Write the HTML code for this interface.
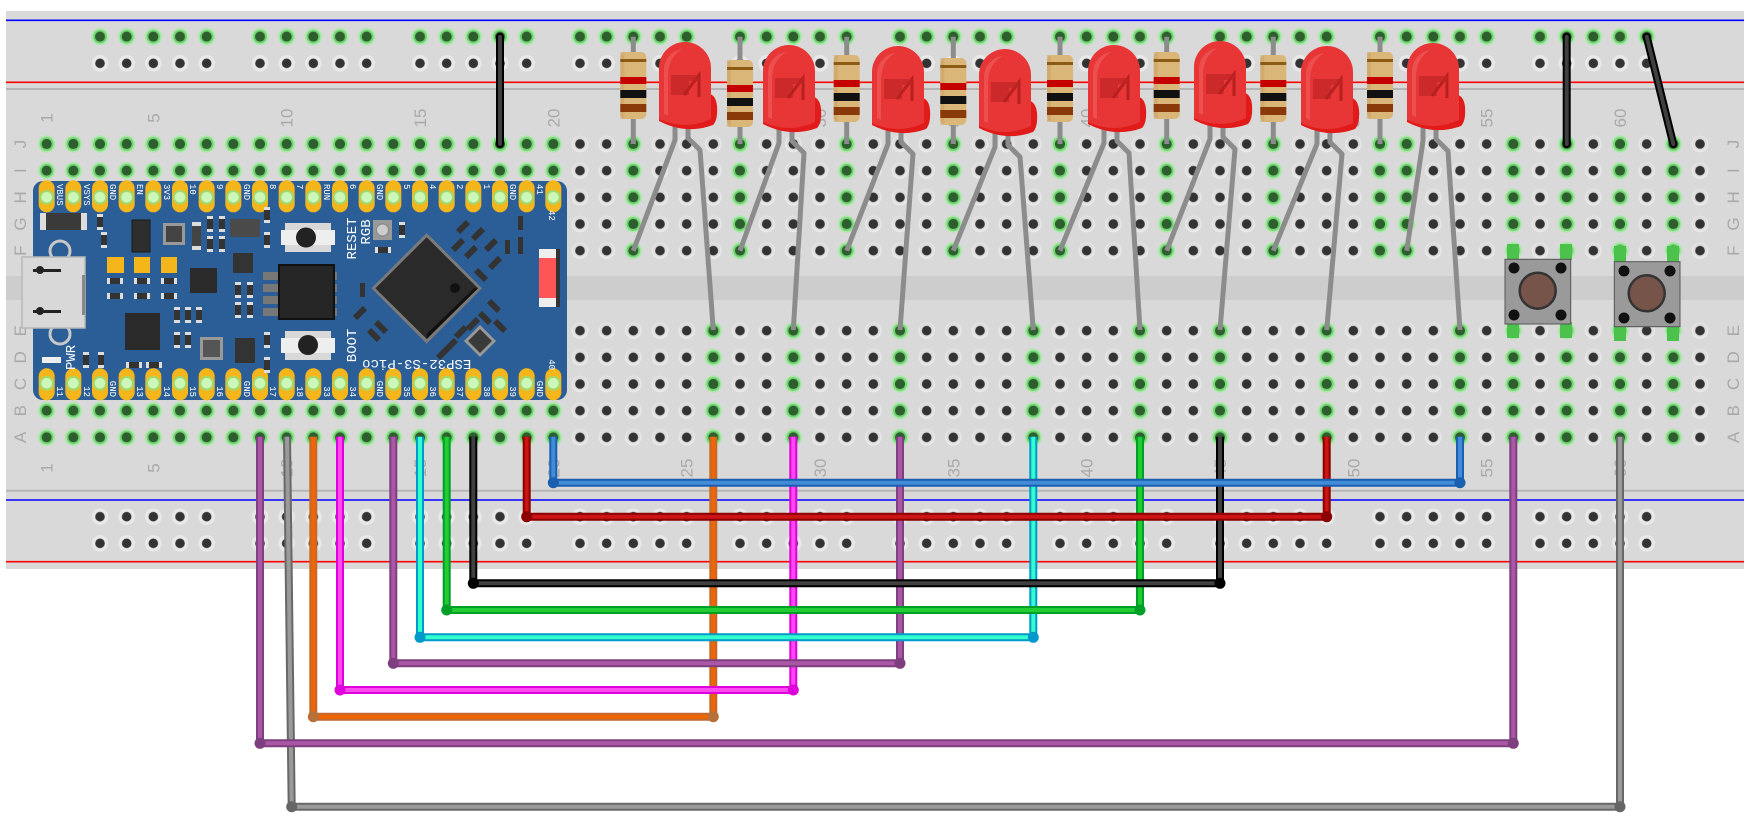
<!DOCTYPE html>
<html><head><meta charset="utf-8"><style>
html,body{margin:0;padding:0;background:#fff;width:1750px;height:820px;overflow:hidden}
svg{display:block}
</style></head><body>
<svg width="1750" height="820" viewBox="0 0 1750 820" xmlns="http://www.w3.org/2000/svg" font-family="Liberation Sans, sans-serif">
<defs>
<pattern id="pn" x="33.333" y="130.667" width="26.667" height="26.667" patternUnits="userSpaceOnUse"><circle cx="13.333" cy="13.333" r="8.3" fill="#e9e9e9"/><circle cx="13.333" cy="12.6" r="7" fill="#cfcfcf" opacity=".5"/><circle cx="13.333" cy="13.333" r="4.8" fill="#333"/></pattern>
<pattern id="pg" x="33.333" y="130.667" width="26.667" height="26.667" patternUnits="userSpaceOnUse"><rect width="26.667" height="26.667" fill="#d9d9d9"/><circle cx="13.333" cy="13.333" r="8.6" fill="#a6eaa6"/><circle cx="13.333" cy="13.333" r="6.8" fill="#72d072"/><circle cx="13.333" cy="13.333" r="5" fill="#2d5e2d"/></pattern>
<pattern id="rn" x="86.667" y="23.333" width="160" height="26.667" patternUnits="userSpaceOnUse">
<g fill="#e9e9e9"><circle cx="13.333" cy="13.333" r="8.3"/><circle cx="40" cy="13.333" r="8.3"/><circle cx="66.667" cy="13.333" r="8.3"/><circle cx="93.333" cy="13.333" r="8.3"/><circle cx="120" cy="13.333" r="8.3"/></g>
<g fill="#333"><circle cx="13.333" cy="13.333" r="4.8"/><circle cx="40" cy="13.333" r="4.8"/><circle cx="66.667" cy="13.333" r="4.8"/><circle cx="93.333" cy="13.333" r="4.8"/><circle cx="120" cy="13.333" r="4.8"/></g></pattern>
<pattern id="rg" x="86.667" y="23.333" width="160" height="26.667" patternUnits="userSpaceOnUse">
<g fill="#a6eaa6"><circle cx="13.333" cy="13.333" r="8.6"/><circle cx="40" cy="13.333" r="8.6"/><circle cx="66.667" cy="13.333" r="8.6"/><circle cx="93.333" cy="13.333" r="8.6"/><circle cx="120" cy="13.333" r="8.6"/></g>
<g fill="#72d072"><circle cx="13.333" cy="13.333" r="6.8"/><circle cx="40" cy="13.333" r="6.8"/><circle cx="66.667" cy="13.333" r="6.8"/><circle cx="93.333" cy="13.333" r="6.8"/><circle cx="120" cy="13.333" r="6.8"/></g>
<g fill="#2d5e2d"><circle cx="13.333" cy="13.333" r="5"/><circle cx="40" cy="13.333" r="5"/><circle cx="66.667" cy="13.333" r="5"/><circle cx="93.333" cy="13.333" r="5"/><circle cx="120" cy="13.333" r="5"/></g></pattern>
<g id="padT"><rect x="-8" y="-17" width="16" height="32" rx="8" fill="#f4b61a"/><circle r="6.3" fill="#cdf7b8" stroke="#a3d86c" stroke-width="2"/></g>
<g id="padB"><rect x="-8" y="-15" width="16" height="32" rx="8" fill="#f4b61a"/><circle r="6.3" fill="#cdf7b8" stroke="#a3d86c" stroke-width="2"/></g>
<g id="smdV"><rect x="-3" y="-8" width="6" height="16" fill="#333"/><rect x="-3" y="-8" width="6" height="3" fill="#ddd"/><rect x="-3" y="5" width="6" height="3" fill="#ddd"/></g>
<g id="smdH"><rect x="-8" y="-3" width="16" height="6" fill="#333"/><rect x="-8" y="-3" width="3" height="6" fill="#ddd"/><rect x="5" y="-3" width="3" height="6" fill="#ddd"/></g>
<g id="res"><rect x="-13" y="0" width="26" height="67" rx="5" fill="#dbb679"/><rect x="-13" y="0" width="4" height="67" fill="#c9a060" opacity=".5"/><rect x="-13" y="7" width="26" height="3" fill="#8b5a14"/><rect x="-13" y="25" width="26" height="7" fill="#c40000"/><rect x="-13" y="38" width="26" height="8" fill="#111"/><rect x="-13" y="52" width="26" height="8" fill="#8a3a08"/></g>
<g id="led"><path d="M-27,70 L-27,79 Q0,93 27,83 Q32,78 31,64 Q30,54 24,52 Z" fill="#e11a1a"/><path d="M-27,77 V26 A26,26 0 0 1 25,26 V77 Q-1,89 -27,77 Z" fill="#e83636"/><path d="M-22,72 V28 A21,21 0 0 1 -4,7 Q-18,16 -18,34 V74 Z" fill="#f06060" opacity=".6"/><rect x="-15" y="33" width="18" height="20" fill="#c02525" opacity=".7"/><path d="M-2,53 L13,33 L13,55" fill="none" stroke="#b82020" stroke-width="3"/><rect x="3" y="33" width="10" height="6" fill="#c02525" opacity=".7"/></g>
</defs>

<rect x="6" y="11" width="1738" height="558" fill="#d9d9d9"/>
<rect x="6" y="276" width="1738" height="24" fill="#cdcdcd"/>
<line x1="6" y1="20.3" x2="1744" y2="20.3" stroke="#0000ff" stroke-width="1.6"/>
<line x1="6" y1="82.3" x2="1744" y2="82.3" stroke="#ff0000" stroke-width="1.6"/>
<line x1="6" y1="89" x2="1744" y2="89" stroke="#b5b5b5" stroke-width="2"/>
<line x1="6" y1="490.7" x2="1744" y2="490.7" stroke="#b5b5b5" stroke-width="2"/>
<line x1="6" y1="500" x2="1744" y2="500" stroke="#0000ff" stroke-width="1.6"/>
<line x1="6" y1="561.7" x2="1744" y2="561.7" stroke="#ff0000" stroke-width="1.6"/>

<rect x="86.667" y="23.333" width="1600" height="53.333" fill="url(#rn)"/>
<rect x="86.667" y="23.333" width="1600" height="26.667" fill="url(#rg)"/>
<rect x="86.667" y="503.333" width="1600" height="53.333" fill="url(#rn)"/>

<rect x="33.333" y="130.667" width="1680" height="133.333" fill="url(#pn)"/>
<rect x="33.333" y="317.333" width="1680" height="133.333" fill="url(#pn)"/>
<g fill="url(#pg)">
<rect x="33.333" y="130.667" width="533.33" height="133.333"/>
<rect x="33.333" y="317.333" width="533.33" height="133.333"/>
<rect x="620" y="130.667" width="26.667" height="133.333"/>
<rect x="726.667" y="130.667" width="26.667" height="133.333"/>
<rect x="833.333" y="130.667" width="26.667" height="133.333"/>
<rect x="940" y="130.667" width="26.667" height="133.333"/>
<rect x="1046.667" y="130.667" width="26.667" height="133.333"/>
<rect x="1153.333" y="130.667" width="26.667" height="133.333"/>
<rect x="1260" y="130.667" width="26.667" height="133.333"/>
<rect x="1366.667" y="130.667" width="53.333" height="133.333"/>
<rect x="1500" y="130.667" width="26.667" height="133.333"/>
<rect x="1553.333" y="130.667" width="26.667" height="133.333"/>
<rect x="1606.667" y="130.667" width="26.667" height="133.333"/>
<rect x="1660" y="130.667" width="26.667" height="133.333"/>
<rect x="700" y="317.333" width="26.667" height="133.333"/>
<rect x="780" y="317.333" width="26.667" height="133.333"/>
<rect x="886.667" y="317.333" width="26.667" height="133.333"/>
<rect x="1020" y="317.333" width="26.667" height="133.333"/>
<rect x="1126.667" y="317.333" width="26.667" height="133.333"/>
<rect x="1206.667" y="317.333" width="26.667" height="133.333"/>
<rect x="1313.333" y="317.333" width="26.667" height="133.333"/>
<rect x="1446.667" y="317.333" width="26.667" height="133.333"/>
<rect x="1500" y="317.333" width="26.667" height="133.333"/>
<rect x="1553.333" y="317.333" width="26.667" height="133.333"/>
<rect x="1606.667" y="317.333" width="26.667" height="133.333"/>
<rect x="1660" y="317.333" width="26.667" height="133.333"/>
</g>

<g fill="#a9a9a9" font-size="17" text-anchor="middle">
<g id="numrow">
<text transform="translate(52.7,118) rotate(-90)">1</text>
<text transform="translate(159.3,118) rotate(-90)">5</text>
<text transform="translate(292.7,118) rotate(-90)">10</text>
<text transform="translate(426,118) rotate(-90)">15</text>
<text transform="translate(559.3,118) rotate(-90)">20</text>
<text transform="translate(692.7,118) rotate(-90)">25</text>
<text transform="translate(826,118) rotate(-90)">30</text>
<text transform="translate(959.3,118) rotate(-90)">35</text>
<text transform="translate(1092.7,118) rotate(-90)">40</text>
<text transform="translate(1226,118) rotate(-90)">45</text>
<text transform="translate(1359.3,118) rotate(-90)">50</text>
<text transform="translate(1492.7,118) rotate(-90)">55</text>
<text transform="translate(1626,118) rotate(-90)">60</text>
</g>
<use href="#numrow" y="350"/>
<g id="lettL">
<text transform="translate(26,144) rotate(-90)">J</text>
<text transform="translate(26,170.7) rotate(-90)">I</text>
<text transform="translate(26,197.3) rotate(-90)">H</text>
<text transform="translate(26,224) rotate(-90)">G</text>
<text transform="translate(26,250.7) rotate(-90)">F</text>
<text transform="translate(26,330.7) rotate(-90)">E</text>
<text transform="translate(26,357.3) rotate(-90)">D</text>
<text transform="translate(26,384) rotate(-90)">C</text>
<text transform="translate(26,410.7) rotate(-90)">B</text>
<text transform="translate(26,437.3) rotate(-90)">A</text>
</g>
<use href="#lettL" x="1713"/>
</g>

<rect x="33" y="181" width="534" height="219" rx="10" fill="#2b5e97"/>
<g>
<use href="#padT" x="46.67" y="197.3"/><use href="#padT" x="73.33" y="197.3"/><use href="#padT" x="100" y="197.3"/><use href="#padT" x="126.67" y="197.3"/><use href="#padT" x="153.33" y="197.3"/><use href="#padT" x="180" y="197.3"/><use href="#padT" x="206.67" y="197.3"/><use href="#padT" x="233.33" y="197.3"/><use href="#padT" x="260" y="197.3"/><use href="#padT" x="286.67" y="197.3"/><use href="#padT" x="313.33" y="197.3"/><use href="#padT" x="340" y="197.3"/><use href="#padT" x="366.67" y="197.3"/><use href="#padT" x="393.33" y="197.3"/><use href="#padT" x="420" y="197.3"/><use href="#padT" x="446.67" y="197.3"/><use href="#padT" x="473.33" y="197.3"/><use href="#padT" x="500" y="197.3"/><use href="#padT" x="526.67" y="197.3"/><use href="#padT" x="553.33" y="197.3"/>
<use href="#padB" x="46.67" y="383.3"/><use href="#padB" x="73.33" y="383.3"/><use href="#padB" x="100" y="383.3"/><use href="#padB" x="126.67" y="383.3"/><use href="#padB" x="153.33" y="383.3"/><use href="#padB" x="180" y="383.3"/><use href="#padB" x="206.67" y="383.3"/><use href="#padB" x="233.33" y="383.3"/><use href="#padB" x="260" y="383.3"/><use href="#padB" x="286.67" y="383.3"/><use href="#padB" x="313.33" y="383.3"/><use href="#padB" x="340" y="383.3"/><use href="#padB" x="366.67" y="383.3"/><use href="#padB" x="393.33" y="383.3"/><use href="#padB" x="420" y="383.3"/><use href="#padB" x="446.67" y="383.3"/><use href="#padB" x="473.33" y="383.3"/><use href="#padB" x="500" y="383.3"/><use href="#padB" x="526.67" y="383.3"/><use href="#padB" x="553.33" y="383.3"/>
</g>
<g fill="#ffffff" font-family="Liberation Mono, monospace" font-size="9">
<text transform="translate(57,184) rotate(90)">VBUS</text>
<text transform="translate(84,184) rotate(90)">VSYS</text>
<text transform="translate(110,184) rotate(90)">GND</text>
<text transform="translate(137,184) rotate(90)">EN</text>
<text transform="translate(164,184) rotate(90)">3V3</text>
<text transform="translate(190,184) rotate(90)">10</text>
<text transform="translate(217,184) rotate(90)">9</text>
<text transform="translate(244,184) rotate(90)">GND</text>
<text transform="translate(270,184) rotate(90)">8</text>
<text transform="translate(297,184) rotate(90)">7</text>
<text transform="translate(324,184) rotate(90)">RUN</text>
<text transform="translate(350,184) rotate(90)">6</text>
<text transform="translate(377,184) rotate(90)">GND</text>
<text transform="translate(404,184) rotate(90)">5</text>
<text transform="translate(430,184) rotate(90)">4</text>
<text transform="translate(457,184) rotate(90)">2</text>
<text transform="translate(484,184) rotate(90)">1</text>
<text transform="translate(510,184) rotate(90)">GND</text>
<text transform="translate(537,184) rotate(90)">41</text>
<text transform="translate(549,210) rotate(90)">42</text>
<g text-anchor="end">
<text transform="translate(57,397) rotate(90)">11</text>
<text transform="translate(84,397) rotate(90)">12</text>
<text transform="translate(110,397) rotate(90)">GND</text>
<text transform="translate(137,397) rotate(90)">13</text>
<text transform="translate(164,397) rotate(90)">14</text>
<text transform="translate(190,397) rotate(90)">15</text>
<text transform="translate(217,397) rotate(90)">16</text>
<text transform="translate(244,397) rotate(90)">GND</text>
<text transform="translate(270,397) rotate(90)">17</text>
<text transform="translate(297,397) rotate(90)">18</text>
<text transform="translate(324,397) rotate(90)">33</text>
<text transform="translate(350,397) rotate(90)">34</text>
<text transform="translate(377,397) rotate(90)">GND</text>
<text transform="translate(404,397) rotate(90)">35</text>
<text transform="translate(430,397) rotate(90)">36</text>
<text transform="translate(457,397) rotate(90)">37</text>
<text transform="translate(484,397) rotate(90)">38</text>
<text transform="translate(510,397) rotate(90)">39</text>
<text transform="translate(537,397) rotate(90)">GND</text>
<text transform="translate(549,370) rotate(90)">40</text>
</g>
</g>
<rect x="40" y="213" width="47" height="17" fill="#3a3a3a"/><rect x="40" y="213" width="6" height="17" fill="#ddd"/><rect x="81" y="213" width="6" height="17" fill="#ddd"/>
<use href="#smdV" x="100" y="222"/>
<circle cx="60" cy="251" r="10" fill="none" stroke="#c8c8c8" stroke-width="3"/>
<circle cx="60" cy="334" r="10" fill="none" stroke="#c8c8c8" stroke-width="3"/>
<rect x="22" y="257" width="63" height="71" fill="#d8d8d8" stroke="#b8b8b8" stroke-width="1.5"/>
<rect x="82" y="275" width="3" height="40" fill="#888"/>
<rect x="33" y="269" width="28" height="3" fill="#222"/><circle cx="40" cy="270" r="4" fill="#222"/>
<rect x="33" y="310" width="28" height="3" fill="#222"/><circle cx="40" cy="311" r="4" fill="#222"/>
<rect x="132" y="220" width="18" height="32" fill="#2e2e2e" stroke="#1a1a1a"/>
<rect x="163" y="223" width="22" height="22" fill="#999"/><rect x="166" y="226" width="16" height="16" fill="#444"/>
<rect x="192" y="222" width="9" height="28" fill="#444"/><rect x="192" y="222" width="9" height="4" fill="#ddd"/><rect x="192" y="246" width="9" height="4" fill="#ddd"/>
<rect x="230" y="219" width="30" height="18" fill="#4a4a4a"/>
<rect x="107" y="257" width="17" height="16" fill="#f4b61a"/><rect x="134" y="257" width="16" height="16" fill="#f4b61a"/><rect x="161" y="257" width="16" height="16" fill="#f4b61a"/>
<rect x="190" y="268" width="27" height="25" fill="#2a2a2a"/>
<rect x="233" y="253" width="20" height="20" fill="#333"/>
<rect x="125" y="313" width="35" height="37" fill="#2a2a2a"/>
<rect x="200" y="337" width="23" height="23" fill="#999"/><rect x="203" y="340" width="17" height="17" fill="#555"/>
<rect x="235" y="338" width="20" height="25" fill="#333"/>
<rect x="42" y="357" width="19" height="6" fill="#eee"/>
<use href="#smdH" x="115" y="281"/><use href="#smdH" x="142" y="281"/><use href="#smdH" x="169" y="281"/>
<use href="#smdH" x="115" y="296"/><use href="#smdH" x="142" y="296"/><use href="#smdH" x="169" y="296"/>
<use href="#smdV" x="104" y="240"/><use href="#smdV" x="210" y="224"/><use href="#smdV" x="210" y="244"/><use href="#smdV" x="222" y="224"/><use href="#smdV" x="222" y="244"/>
<use href="#smdV" x="177" y="315"/><use href="#smdV" x="188" y="315"/><use href="#smdV" x="199" y="315"/><use href="#smdV" x="177" y="340"/><use href="#smdV" x="188" y="340"/>
<use href="#smdV" x="238" y="290"/><use href="#smdV" x="250" y="290"/><use href="#smdV" x="238" y="310"/><use href="#smdV" x="250" y="310"/>
<use href="#smdV" x="86" y="360"/><use href="#smdV" x="101" y="360"/><use href="#smdV" x="267" y="215"/><use href="#smdV" x="267" y="240"/><use href="#smdV" x="267" y="340"/><use href="#smdV" x="267" y="365"/>
<use href="#smdH" x="134" y="365"/><use href="#smdH" x="154" y="365"/>
<text transform="translate(75,370) rotate(-90)" fill="#fff" font-size="14" font-family="Liberation Mono, monospace">PWR</text>
<rect x="285" y="223" width="46" height="29" fill="#d8d8d8"/><rect x="281" y="230" width="54" height="15" fill="#eee"/><circle cx="306" cy="237.5" r="10" fill="#222"/>
<rect x="285" y="331" width="46" height="29" fill="#d8d8d8"/><rect x="281" y="338" width="54" height="15" fill="#eee"/><circle cx="308" cy="345" r="10" fill="#222"/>
<rect x="263" y="272" width="74" height="8" fill="#777"/><rect x="263" y="284" width="74" height="8" fill="#777"/><rect x="263" y="296" width="74" height="8" fill="#777"/><rect x="263" y="308" width="74" height="8" fill="#777"/>
<rect x="279" y="265" width="55" height="54" fill="#262626" stroke="#111" stroke-width="2"/>
<g fill="#fff" font-family="Liberation Mono, monospace" font-size="14" text-anchor="middle">
<text transform="translate(356,238.5) rotate(-90)">RESET</text>
<text transform="translate(370,232) rotate(-90)">RGB</text>
<text transform="translate(356,345.5) rotate(-90)">BOOT</text>
<text transform="translate(416.7,360) rotate(180)">ESP32-S3-Pico</text>
</g>
<rect x="373" y="220" width="19" height="20" fill="#999"/><circle cx="382.5" cy="230" r="6" fill="#ccc" stroke="#888"/>
<use href="#smdH" x="383" y="250"/><use href="#smdV" x="402" y="230"/>
<path d="M426.7,233 L482,288.3 L426.7,343.6 L371.4,288.3 Z" fill="#7a7a7a"/>
<path d="M426.7,237.3 L478,288.3 L426.7,339 L375.4,288.3 Z" fill="#2a2a2a"/>
<path d="M426.7,339 L478,288.3 L474,288.3 L426.7,334 Z" fill="#111"/>
<circle cx="455" cy="288" r="5" fill="#111"/>
<path d="M480,325 L496,341 L480,357 L464,341 Z" fill="#999"/><path d="M480,329 L492,341 L480,353 L468,341 Z" fill="#3a3a3a"/>
<g fill="#333"><rect x="460" y="220" width="6" height="14" transform="rotate(45 463 227)"/><rect x="475" y="227" width="6" height="14" transform="rotate(45 478 234)"/><rect x="455" y="238" width="6" height="14" transform="rotate(45 458 245)"/><rect x="468" y="245" width="6" height="14" transform="rotate(45 471 252)"/><rect x="488" y="238" width="6" height="14" transform="rotate(45 491 245)"/><rect x="492" y="256" width="6" height="14" transform="rotate(45 495 263)"/><rect x="478" y="268" width="6" height="14" transform="rotate(-45 481 275)"/><rect x="491" y="299" width="6" height="14" transform="rotate(-45 494 306)"/><rect x="482" y="311" width="6" height="14" transform="rotate(-45 485 318)"/><rect x="497" y="319" width="6" height="14" transform="rotate(-45 500 326)"/><rect x="470" y="317" width="6" height="14" transform="rotate(45 473 324)"/><rect x="458" y="325" width="6" height="14" transform="rotate(45 461 332)"/><rect x="448" y="338" width="6" height="14" transform="rotate(45 451 345)"/><rect x="440" y="346" width="6" height="14" transform="rotate(45 443 353)"/><rect x="357" y="306" width="6" height="14" transform="rotate(45 360 313)"/><rect x="378" y="320" width="6" height="14" transform="rotate(-45 381 327)"/><rect x="371" y="328" width="6" height="14" transform="rotate(-45 374 335)"/><rect x="360" y="283" width="5" height="14"/><rect x="518" y="216" width="5" height="14"/><rect x="518" y="237" width="5" height="17"/><rect x="505" y="240" width="5" height="14"/></g>
<rect x="539" y="249" width="21" height="58" fill="#eee"/><rect x="539" y="258" width="18" height="40" fill="#ff5555"/><rect x="556" y="249" width="4" height="58" fill="#333"/>

<g stroke="#8c8c8c" stroke-width="5" fill="none" stroke-linejoin="round">
<path d="M633.3,36.7 V144"/><path d="M740,36.7 V144"/><path d="M846.7,36.7 V144"/><path d="M953.3,36.7 V144"/><path d="M1060,36.7 V144"/><path d="M1166.7,36.7 V144"/><path d="M1273.3,36.7 V144"/><path d="M1380,36.7 V144"/>
<path d="M675,125 V140 L633.3,250.7"/><path d="M688,125 V138 L700,150 L713.3,330"/>
<path d="M779,128 V143 L740,250.7"/><path d="M792,128 V141 L804,153 L793.3,330"/>
<path d="M888,129 V144 L846.7,250.7"/><path d="M901,129 V142 L913,154 L900,330"/>
<path d="M995,132 V147 L953.3,250.7"/><path d="M1008,132 V145 L1020,157 L1033.3,330"/>
<path d="M1104,128 V143 L1060,250.7"/><path d="M1117,128 V141 L1129,153 L1140,330"/>
<path d="M1210,124 V139 L1166.7,250.7"/><path d="M1223,124 V137 L1235,149 L1220,330"/>
<path d="M1317,129 V144 L1273.3,250.7"/><path d="M1330,129 V142 L1342,154 L1326.7,330"/>
<path d="M1423,126 V141 L1406.7,250.7"/><path d="M1436,126 V139 L1448,151 L1460,330"/>
</g>
<use href="#res" x="633.3" y="52"/><use href="#res" x="740" y="60"/><use href="#res" x="846.7" y="55"/><use href="#res" x="953.3" y="58"/><use href="#res" x="1060" y="55"/><use href="#res" x="1166.7" y="52"/><use href="#res" x="1273.3" y="55"/><use href="#res" x="1380" y="52"/>
<use href="#led" x="686" y="42"/><use href="#led" x="790" y="45"/><use href="#led" x="899" y="46"/><use href="#led" x="1006" y="49"/><use href="#led" x="1115" y="45"/><use href="#led" x="1221" y="41"/><use href="#led" x="1328" y="46"/><use href="#led" x="1434" y="43"/>

<g stroke-linecap="round" fill="none">
<path d="M500,36.7 V144 M1566.7,36.7 V144 M1646.7,36.7 L1673.3,144" stroke="#000" stroke-width="8"/>
<path d="M500,36.7 V144 M1566.7,36.7 V144 M1646.7,36.7 L1673.3,144" stroke="#404040" stroke-width="4"/>
</g>

<g fill="#4cc24c"><rect x="1507" y="244" width="12" height="16"/><rect x="1560" y="244" width="12" height="16"/><rect x="1507" y="322" width="12" height="16"/><rect x="1560" y="322" width="12" height="16"/>
<rect x="1614" y="246" width="12" height="16"/><rect x="1667" y="246" width="12" height="16"/><rect x="1614" y="325" width="12" height="16"/><rect x="1667" y="325" width="12" height="16"/></g>
<rect x="1505" y="259.3" width="65.7" height="64.7" fill="#9a9a9a" stroke="#555"/>
<circle cx="1537.7" cy="290.7" r="18" fill="#77544a" stroke="#333" stroke-width="2.5"/>
<g fill="#111"><circle cx="1514" cy="268" r="5.5"/><circle cx="1561" cy="268" r="5.5"/><circle cx="1514" cy="315" r="5.5"/><circle cx="1561" cy="315" r="5.5"/></g>
<rect x="1614.3" y="261.7" width="65.7" height="65" fill="#9a9a9a" stroke="#555"/>
<circle cx="1646.7" cy="293.3" r="18" fill="#77544a" stroke="#333" stroke-width="2.5"/>
<g fill="#111"><circle cx="1624" cy="271" r="5.5"/><circle cx="1670" cy="271" r="5.5"/><circle cx="1624" cy="318" r="5.5"/><circle cx="1670" cy="318" r="5.5"/></g>

<g fill="none" stroke-linejoin="round">
<path d="M287,436.7 L291.7,806.7 H1620 V436.7" stroke="#686868" stroke-width="8"/><path d="M287,436.7 L291.7,806.7 H1620 V436.7" stroke="#9a9a9a" stroke-width="4"/>
<path d="M260,436.7 V743.3 H1513.3 V436.7" stroke="#7d3f7d" stroke-width="8"/><path d="M260,436.7 V743.3 H1513.3 V436.7" stroke="#ab56a6" stroke-width="4"/>
<path d="M313.3,436.7 V716.7 H713.3 V436.7" stroke="#c06a30" stroke-width="8"/><path d="M313.3,436.7 V716.7 H713.3 V436.7" stroke="#f06500" stroke-width="4"/>
<path d="M340,436.7 V690 H793.3 V436.7" stroke="#dd00dd" stroke-width="8"/><path d="M340,436.7 V690 H793.3 V436.7" stroke="#ff48ee" stroke-width="4"/>
<path d="M393.3,436.7 V663.3 H900 V436.7" stroke="#7d3f7d" stroke-width="8"/><path d="M393.3,436.7 V663.3 H900 V436.7" stroke="#ab56a6" stroke-width="4"/>
<path d="M420,436.7 V637.3 H1033.3 V436.7" stroke="#0099cc" stroke-width="8"/><path d="M420,436.7 V637.3 H1033.3 V436.7" stroke="#33ffcc" stroke-width="4"/>
<path d="M446.7,436.7 V610 H1140 V436.7" stroke="#00a028" stroke-width="8"/><path d="M446.7,436.7 V610 H1140 V436.7" stroke="#22cc33" stroke-width="4"/>
<path d="M473.3,436.7 V583.3 H1220 V436.7" stroke="#000" stroke-width="8"/><path d="M473.3,436.7 V583.3 H1220 V436.7" stroke="#404040" stroke-width="4"/>
<path d="M526.7,436.7 V516.7 H1326.7 V436.7" stroke="#8b0000" stroke-width="8"/><path d="M526.7,436.7 V516.7 H1326.7 V436.7" stroke="#cc1414" stroke-width="4"/>
<path d="M553.3,436.7 V482.7 H1460 V436.7" stroke="#1a5fb0" stroke-width="8"/><path d="M553.3,436.7 V482.7 H1460 V436.7" stroke="#418bd8" stroke-width="4"/>
</g>
<g>
<circle cx="291.7" cy="806.7" r="5.5" fill="#666"/><circle cx="1620" cy="806.7" r="5.5" fill="#666"/>
<circle cx="260" cy="743.3" r="5.5" fill="#7d3f7d"/><circle cx="1513.3" cy="743.3" r="5.5" fill="#7d3f7d"/>
<circle cx="313.3" cy="716.7" r="5.5" fill="#b8703a"/><circle cx="713.3" cy="716.7" r="5.5" fill="#b8703a"/>
<circle cx="340" cy="690" r="5.5" fill="#dd00dd"/><circle cx="793.3" cy="690" r="5.5" fill="#dd00dd"/>
<circle cx="393.3" cy="663.3" r="5.5" fill="#7d3f7d"/><circle cx="900" cy="663.3" r="5.5" fill="#7d3f7d"/>
<circle cx="420" cy="637.3" r="5.5" fill="#0099cc"/><circle cx="1033.3" cy="637.3" r="5.5" fill="#0099cc"/>
<circle cx="446.7" cy="610" r="5.5" fill="#00a028"/><circle cx="1140" cy="610" r="5.5" fill="#00a028"/>
<circle cx="473.3" cy="583.3" r="5.5" fill="#000"/><circle cx="1220" cy="583.3" r="5.5" fill="#000"/>
<circle cx="526.7" cy="516.7" r="5.5" fill="#8b0000"/><circle cx="1326.7" cy="516.7" r="5.5" fill="#8b0000"/>
<circle cx="553.3" cy="482.7" r="5.5" fill="#1a5fb0"/><circle cx="1460" cy="482.7" r="5.5" fill="#1a5fb0"/>
</g>
</svg>
</body></html>
